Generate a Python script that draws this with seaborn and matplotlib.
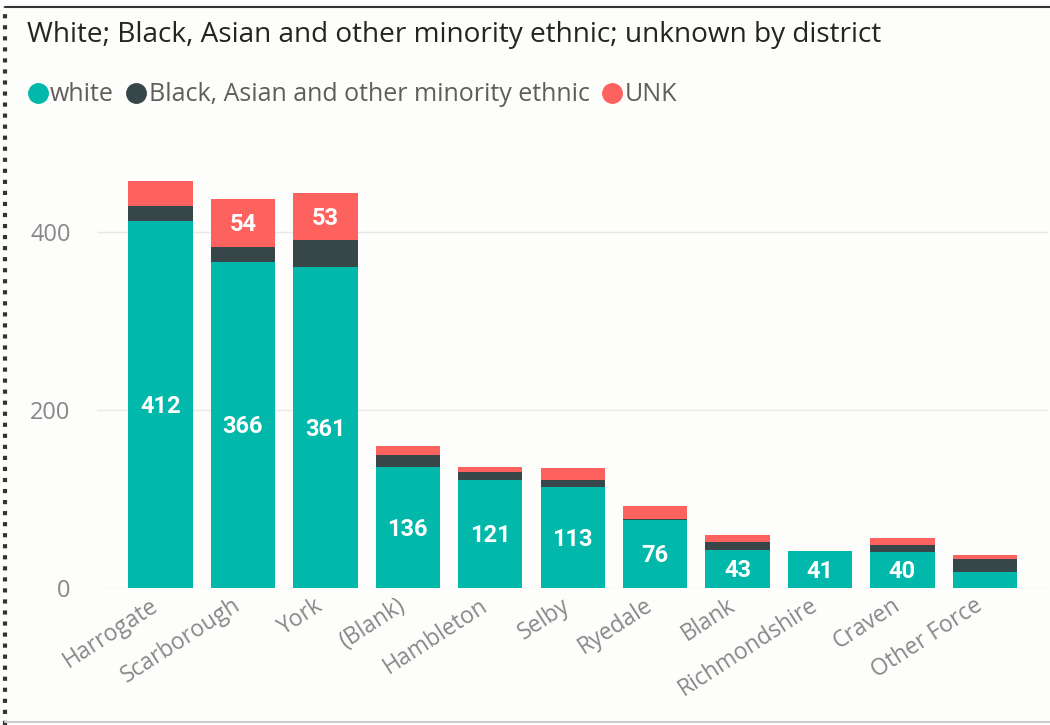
import numpy as np
import pandas as pd
import seaborn as sns
import matplotlib.pyplot as plt
import matplotlib.transforms as mtransforms
from matplotlib.lines import Line2D

# Chart values
districts = ['Harrogate', 'Scarborough', 'York', '(Blank)', 'Hambleton', 'Selby',
             'Ryedale', 'Blank', 'Richmondshire', 'Craven', 'Other Force']
white = [412, 366, 361, 136, 121, 113, 76, 43, 41, 40, 18]
bame = [17, 17, 30, 13, 9, 8, 1, 9, 0, 8, 14]
unk = [28, 54, 53, 11, 6, 14, 15, 8, 0, 8, 5]

series_names = ['white', 'Black, Asian and other minority ethnic', 'UNK']
colors = ['#01B8AA', '#374649', '#FD625E']

df = pd.DataFrame({'district': districts, 'white': white, 'bame': bame, 'unk': unk})
df['base_unk'] = df['white'] + df['bame']

sns.set_style('white')
plt.rcParams['font.family'] = ['Open Sans', 'DejaVu Sans']

fig = plt.figure(figsize=(10.5, 7.25), dpi=100)
fig.patch.set_facecolor('#fdfdfb')
ax = fig.add_axes([0.0924, 0.189, 0.906, 0.614])
ax.set_facecolor('#fdfdfb')

bar_kw = dict(width=0.78, saturation=1, ax=ax, order=districts, linewidth=0)
sns.barplot(data=df, x='district', y='white', color=colors[0], **bar_kw)
sns.barplot(data=df, x='district', y='bame', color=colors[1], bottom=df['white'], **bar_kw)
sns.barplot(data=df, x='district', y='unk', color=colors[2], bottom=df['base_unk'], **bar_kw)

# data labels (white segments and the big UNK ones)
lab_font = dict(ha='center', va='center', color='white', fontsize=17,
                fontweight='bold', family=['Roboto', 'DejaVu Sans'])
for i, row in df.iterrows():
    if row['white'] >= 30:
        ax.text(i, row['white'] / 2 - 2, str(row['white']), **lab_font)
    if row['unk'] >= 40:
        ax.text(i, row['base_unk'] + row['unk'] / 2 - 2, str(row['unk']), **lab_font)

ax.set_ylim(0, 500)
ax.set_xlim(-0.77, 10.77)
ax.set_yticks([0, 200, 400])
ax.yaxis.grid(True, color='#e8e8e8', linewidth=1)
ax.set_axisbelow(True)
ax.set_xlabel('')
ax.set_ylabel('')
sns.despine(ax=ax, left=True, bottom=True)
ax.tick_params(axis='y', colors='#888888', labelsize=17, length=0, pad=19)
ax.tick_params(axis='x', colors='#888888', labelsize=16.5, length=0, pad=4)
shift = mtransforms.ScaledTranslation(-8 / 72, 0, fig.dpi_scale_trans)
for lab in ax.get_xticklabels():
    lab.set_rotation(33)
    lab.set_ha('right')
    lab.set_rotation_mode('anchor')
    lab.set_transform(lab.get_transform() + shift)

fig.text(0.026, 0.952, 'White; Black, Asian and other minority ethnic; unknown by district',
         fontsize=20.2, color='#252423', va='center')

handles = [Line2D([], [], marker='o', linestyle='', markersize=14, color=c) for c in colors]
fig.legend(handles, series_names, loc='center left', bbox_to_anchor=(0.0, 0.869),
           ncol=3, frameon=False, handletextpad=-0.1, columnspacing=0.3,
           handlelength=1.2, prop={'size': 18}, labelcolor='#605E5C')

# card border
fig.add_artist(Line2D([0.005, 0.005], [0.0, 0.99], transform=fig.transFigure,
                      color='#333333', linewidth=3, linestyle=':'))
fig.add_artist(Line2D([0.005, 1.0], [0.99, 0.99], transform=fig.transFigure,
                      color='#333333', linewidth=1.5))
fig.add_artist(Line2D([0.005, 1.0], [0.004, 0.004], transform=fig.transFigure,
                      color='#cccccc', linewidth=1.5))

fig.savefig('out.png', dpi=100, facecolor=fig.get_facecolor())
